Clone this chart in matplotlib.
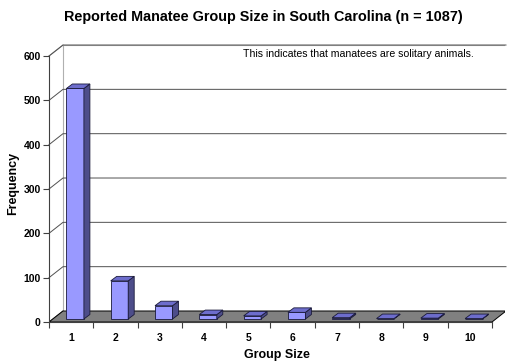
import numpy as np
import matplotlib.pyplot as plt
from matplotlib.patches import Polygon

plt.rcParams['font.family'] = ['Liberation Sans', 'DejaVu Sans']

group_size = [1, 2, 3, 4, 5, 6, 7, 8, 9, 10]
frequency = [520, 86, 30, 10, 7, 15, 3, 1, 2, 1]
yticks = [0, 100, 200, 300, 400, 500, 600]

fig = plt.figure(figsize=(5.26, 3.64), dpi=100)
ax = fig.add_axes([49/526, 1-322/364, 456/526, 278/364])
ax.set_xlim(0.5, 0.5 + 456/44.3)
ax.set_ylim(0, 278/0.4433)

# depth of the back wall and of the bars (in data units)
DX, DY = 14/44.3, 11/0.4433
BX, BY = 4/44.3, 3/0.4433
BDX, BDY = 6/44.3, 4.5/0.4433
W = 17.5/44.3

x0, x1 = 0.5, 10.5
# back wall
ax.add_patch(Polygon([(x0+DX, DY), (x1+DX, DY), (x1+DX, 600+DY), (x0+DX, 600+DY)],
                     closed=True, facecolor='white', edgecolor='#b0b0b0', lw=0.8, zorder=0))
ax.plot([x0, x0+DX], [600, 600+DY], color='#a0a0a0', lw=0.8, zorder=1, clip_on=False)
# gridlines
for v in yticks[1:]:
    ax.plot([x0, x0+DX, x1+DX], [v, v+DY, v+DY], color='#505050', lw=0.7, zorder=1, clip_on=False)
ax.plot([x0, x0+DX], [0, DY], color='#505050', lw=0.7, zorder=1)
# floor
ax.add_patch(Polygon([(x0, 0), (x1, 0), (x1+DX, DY), (x0+DX, DY)],
                     closed=True, facecolor='#808080', edgecolor='black', lw=0.7, zorder=2))

# bars
ec = '#1a1a3a'
for g, f in zip(group_size, frequency):
    a = g - W/2 + BX
    b = g + W/2 + BX
    ax.bar(a, f, width=W, bottom=BY, align='edge', color='#9999ff', edgecolor=ec, lw=0.6, zorder=3)
    ax.add_patch(Polygon([(b, BY), (b+BDX, BY+BDY), (b+BDX, BY+f+BDY), (b, BY+f)],
                         closed=True, facecolor='#4d4d8a', edgecolor=ec, lw=0.6, zorder=3))
    ax.add_patch(Polygon([(a, BY+f), (b, BY+f), (b+BDX, BY+f+BDY), (a+BDX, BY+f+BDY)],
                         closed=True, facecolor='#6d6dcc', edgecolor=ec, lw=0.6, zorder=3))

for s in ['top', 'right']:
    ax.spines[s].set_visible(False)
ax.spines['left'].set_bounds(0, 600)
ax.spines['bottom'].set_bounds(x0, x1)
ax.spines['left'].set_color('#404040')
ax.spines['bottom'].set_color('#404040')
ax.set_facecolor('none')

ax.set_yticks(yticks)
ax.set_yticklabels([str(v) for v in yticks], fontsize=7.5, fontweight='bold')
ax.set_xticks(np.arange(0.5, 11, 1))
ax.set_xticklabels([])
ax.set_xticks(group_size, minor=True)
ax.set_xticklabels([str(g) for g in group_size], minor=True, fontsize=7.5, fontweight='bold')
ax.tick_params(axis='x', which='minor', length=0, pad=8)
ax.tick_params(axis='x', which='major', length=4, color='#404040')
ax.tick_params(axis='y', length=4, color='#404040', pad=2)

ax.set_xlabel('Group Size', fontsize=9, fontweight='bold', labelpad=4)
ax.set_ylabel('Frequency', fontsize=9, fontweight='bold', labelpad=3)

fig.text(263/526, 1-17/364, 'Reported Manatee Group Size in South Carolina (n = 1087)',
         ha='center', va='center', fontsize=10.4, fontweight='bold')
fig.text(358/526, 1-54/364, 'This indicates that manatees are solitary animals.',
         ha='center', va='center', fontsize=7.6)

fig.savefig('out.png', dpi=100)
